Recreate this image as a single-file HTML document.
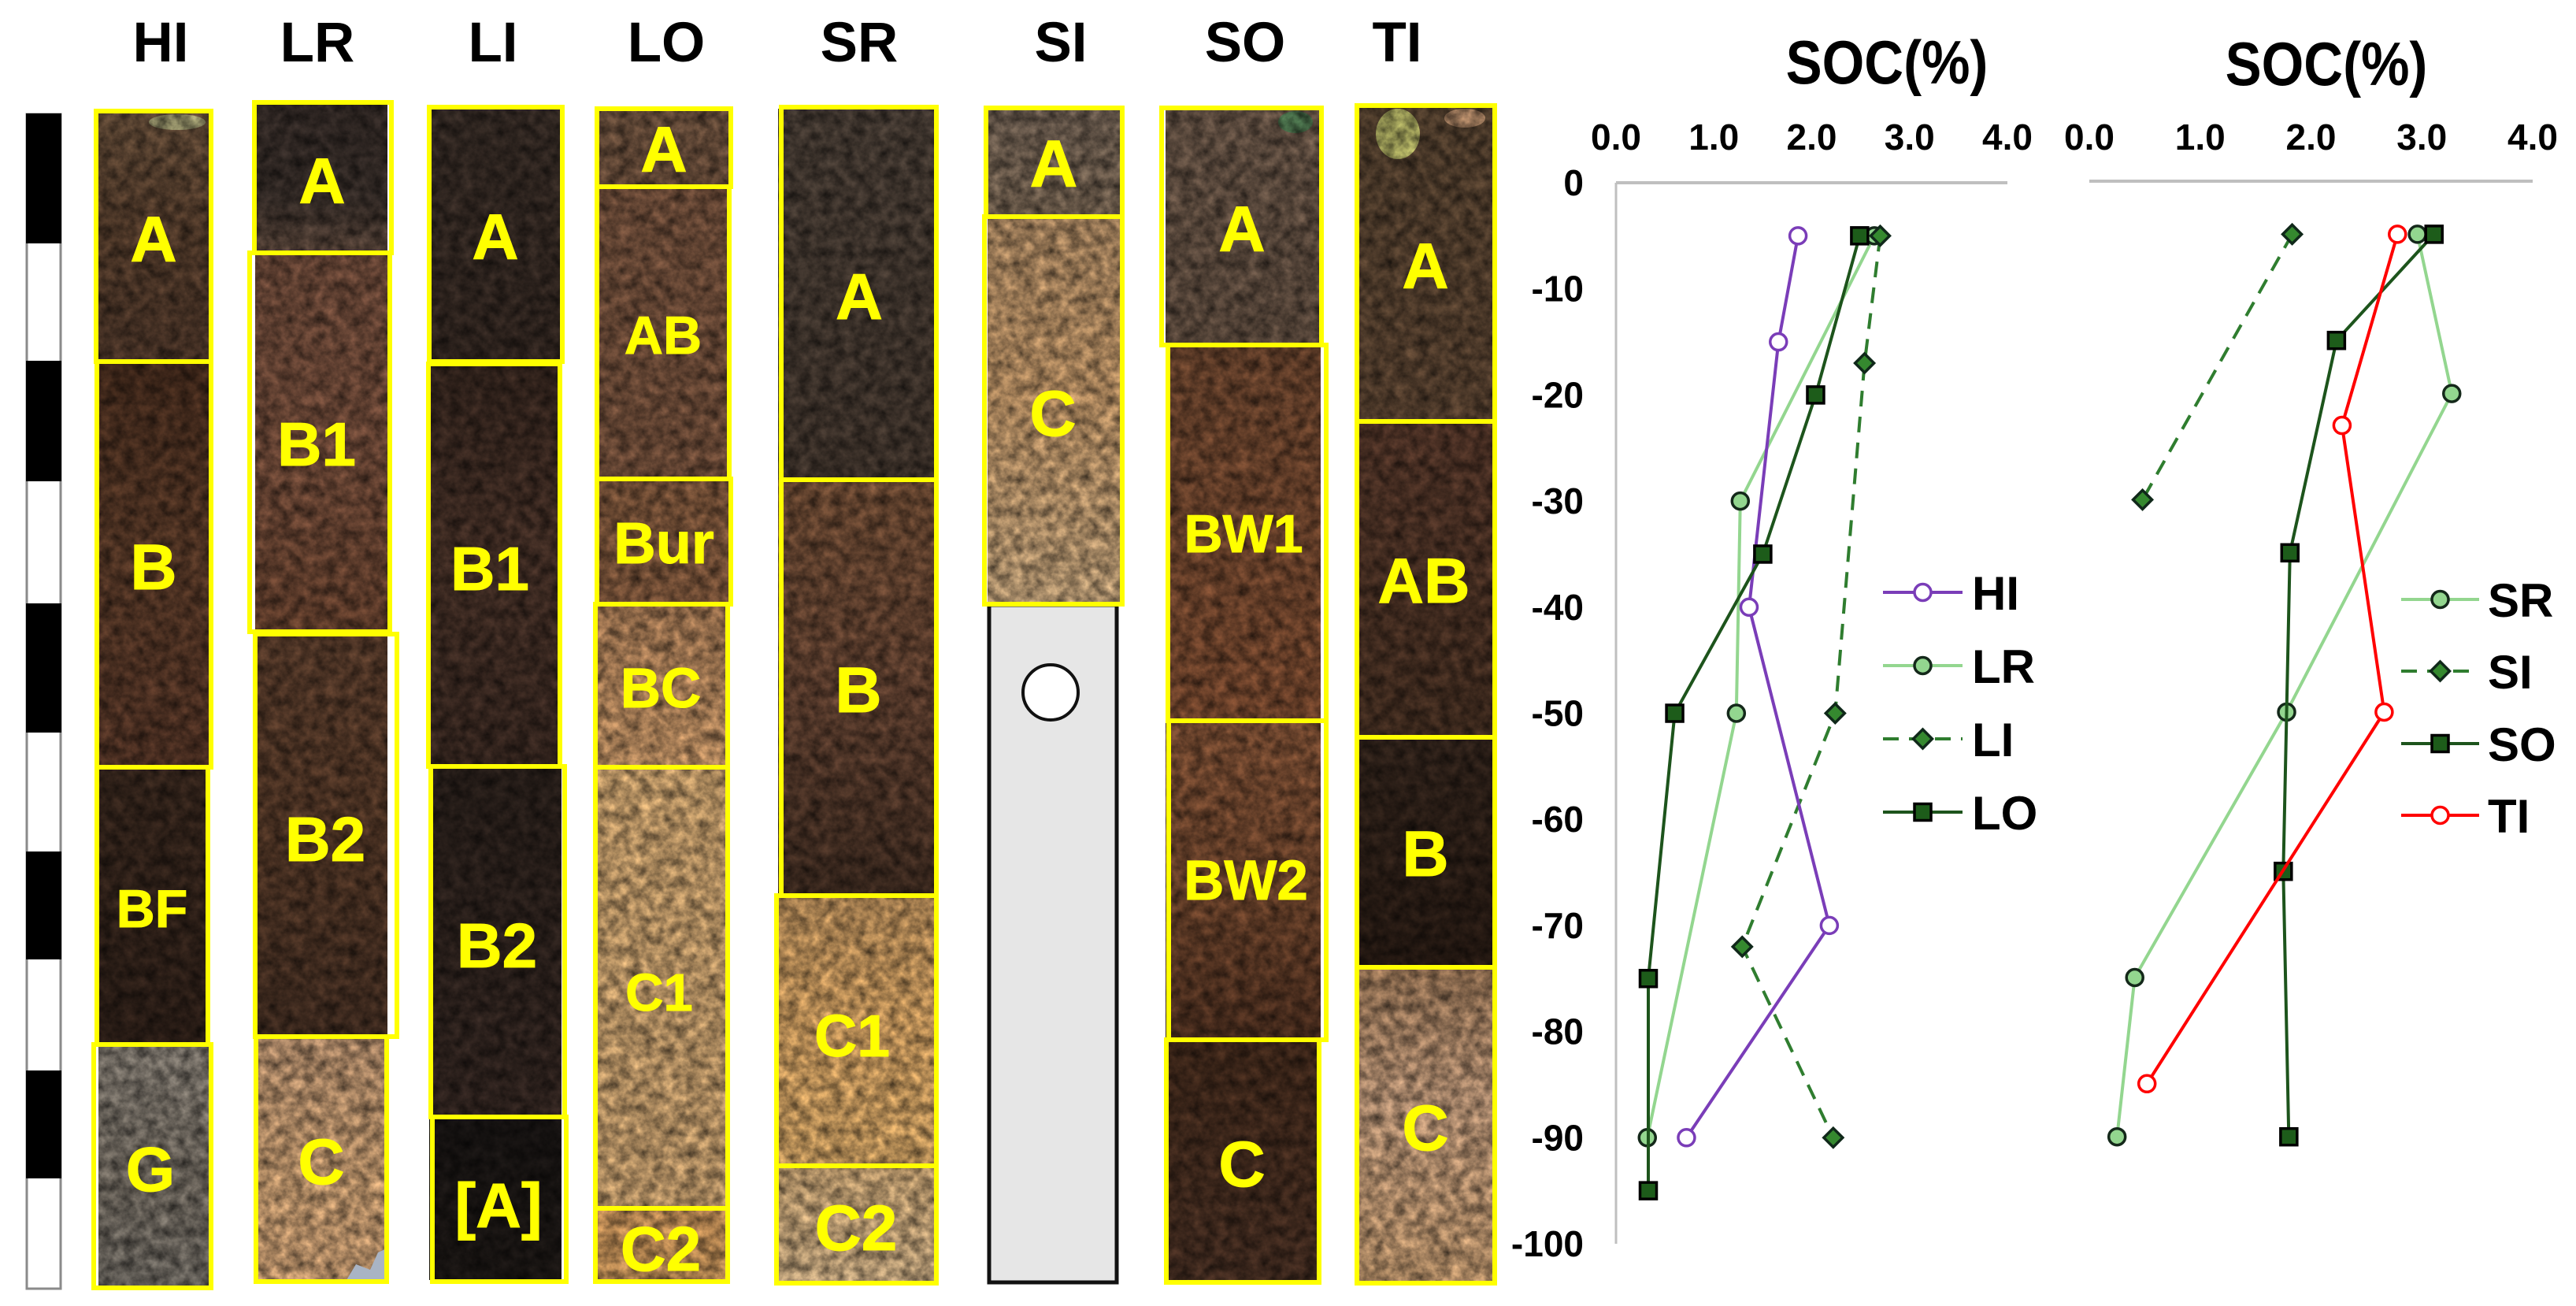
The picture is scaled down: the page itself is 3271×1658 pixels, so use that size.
<!DOCTYPE html>
<html lang="en">
<head>
<meta charset="utf-8">
<title>Soil profiles and SOC depth charts</title>
<style>
html,body{margin:0;padding:0;background:#fff;}
svg{display:block;}
text{font-family:"Liberation Sans",Arial,sans-serif;font-weight:bold;}
.hd{font-size:71px;fill:#000;text-anchor:middle;}
.hz{fill:#ffff00;stroke:#ffff00;stroke-width:1;text-anchor:middle;}
.bx{fill:none;stroke:#ffff00;stroke-width:6;}
</style>
</head>
<body>
<svg id="fig" xmlns="http://www.w3.org/2000/svg" width="3271" height="1658" viewBox="0 0 3271 1658">
<defs>
<filter id="lumps" filterUnits="userSpaceOnUse" x="0" y="0" width="1950" height="1658" color-interpolation-filters="sRGB">
<feTurbulence type="fractalNoise" baseFrequency="0.07" numOctaves="4" seed="7" result="t"/>
<feColorMatrix in="t" type="matrix" values="1 0 0 0 0 1 0 0 0 0 1 0 0 0 0 0 0 0 0 1" result="g"/>
<feComposite in="SourceGraphic" in2="g" operator="arithmetic" k1="1.3" k2="0.33" k3="0" k4="0"/>
</filter>
<linearGradient id="gHI" gradientUnits="userSpaceOnUse" x1="0" y1="0" x2="0" y2="1658"><stop offset=".085" stop-color="#54402f"/><stop offset=".181" stop-color="#463224"/><stop offset=".277" stop-color="#402d22"/><stop offset=".278" stop-color="#3a2418"/><stop offset=".422" stop-color="#4a3021"/><stop offset=".587" stop-color="#452b1f"/><stop offset=".588" stop-color="#2e2018"/><stop offset=".800" stop-color="#261a14"/><stop offset=".801" stop-color="#6e6860"/><stop offset=".905" stop-color="#5e5850"/><stop offset=".987" stop-color="#5c5852"/></linearGradient>
<linearGradient id="gLR" gradientUnits="userSpaceOnUse" x1="0" y1="0" x2="0" y2="1658"><stop offset=".078" stop-color="#2b2320"/><stop offset=".151" stop-color="#2e2622"/><stop offset=".194" stop-color="#4d3c32"/><stop offset=".195" stop-color="#5c3e30"/><stop offset=".338" stop-color="#5f3f30"/><stop offset=".484" stop-color="#553626"/><stop offset=".485" stop-color="#4a3224"/><stop offset=".639" stop-color="#452e20"/><stop offset=".794" stop-color="#38261c"/><stop offset=".795" stop-color="#96765a"/><stop offset=".905" stop-color="#a8845f"/><stop offset=".981" stop-color="#a8835f"/></linearGradient>
<linearGradient id="gLI" gradientUnits="userSpaceOnUse" x1="0" y1="0" x2="0" y2="1658"><stop offset=".081" stop-color="#2d241f"/><stop offset=".277" stop-color="#2a201b"/><stop offset=".278" stop-color="#2c1f19"/><stop offset=".422" stop-color="#3a2820"/><stop offset=".587" stop-color="#2f211b"/><stop offset=".588" stop-color="#221a16"/><stop offset=".855" stop-color="#2a1f1b"/><stop offset=".856" stop-color="#141110"/><stop offset=".981" stop-color="#171311"/></linearGradient>
<linearGradient id="gLO" gradientUnits="userSpaceOnUse" x1="0" y1="0" x2="0" y2="1658"><stop offset=".083" stop-color="#584232"/><stop offset=".142" stop-color="#5a4232"/><stop offset=".143" stop-color="#604332"/><stop offset=".367" stop-color="#5e4130"/><stop offset=".368" stop-color="#664630"/><stop offset=".462" stop-color="#6c4a33"/><stop offset=".463" stop-color="#8a6546"/><stop offset=".587" stop-color="#a47c55"/><stop offset=".588" stop-color="#aa885c"/><stop offset=".925" stop-color="#a2825a"/><stop offset=".926" stop-color="#a87b4b"/><stop offset=".981" stop-color="#a07748"/></linearGradient>
<linearGradient id="gSR" gradientUnits="userSpaceOnUse" x1="0" y1="0" x2="0" y2="1658"><stop offset=".081" stop-color="#3c332c"/><stop offset=".367" stop-color="#362c25"/><stop offset=".368" stop-color="#5e402c"/><stop offset=".531" stop-color="#523729"/><stop offset=".686" stop-color="#34241b"/><stop offset=".687" stop-color="#9a764b"/><stop offset=".784" stop-color="#b18752"/><stop offset=".893" stop-color="#ac8652"/><stop offset=".894" stop-color="#a68860"/><stop offset=".982" stop-color="#a78e6c"/></linearGradient>
<linearGradient id="gSI" gradientUnits="userSpaceOnUse" x1="0" y1="0" x2="0" y2="1658"><stop offset=".082" stop-color="#5c4f44"/><stop offset=".166" stop-color="#625344"/><stop offset=".167" stop-color="#907252"/><stop offset=".302" stop-color="#9e7b55"/><stop offset=".463" stop-color="#9f8564"/></linearGradient>
<linearGradient id="gSO" gradientUnits="userSpaceOnUse" x1="0" y1="0" x2="0" y2="1658"><stop offset=".082" stop-color="#57473b"/><stop offset=".264" stop-color="#4e3f34"/><stop offset=".265" stop-color="#593926"/><stop offset=".552" stop-color="#653d27"/><stop offset=".553" stop-color="#6a432c"/><stop offset=".694" stop-color="#5a3824"/><stop offset=".796" stop-color="#40271a"/><stop offset=".797" stop-color="#382317"/><stop offset=".982" stop-color="#3a261c"/></linearGradient>
<linearGradient id="gTI" gradientUnits="userSpaceOnUse" x1="0" y1="0" x2="0" y2="1658"><stop offset=".081" stop-color="#463627"/><stop offset=".323" stop-color="#4a3728"/><stop offset=".324" stop-color="#462d22"/><stop offset=".565" stop-color="#38261b"/><stop offset=".566" stop-color="#2a1e17"/><stop offset=".741" stop-color="#211610"/><stop offset=".742" stop-color="#806248"/><stop offset=".844" stop-color="#a08066"/><stop offset=".983" stop-color="#a07e5b"/></linearGradient>
</defs>

<rect x="0" y="0" width="3271" height="1658" fill="#ffffff"/>

<!-- depth scale bar -->
<g>
<rect x="34" y="145" width="43" height="1491" fill="#fff" stroke="#8a8a8a" stroke-width="3"/>
<rect x="33" y="144" width="45" height="165" fill="#000"/>
<rect x="33" y="458" width="45" height="153" fill="#000"/>
<rect x="33" y="766" width="45" height="164" fill="#000"/>
<rect x="33" y="1081" width="45" height="137" fill="#000"/>
<rect x="33" y="1359" width="45" height="137" fill="#000"/>
</g>

<!-- column headers -->
<text class="hd" x="204" y="78">HI</text>
<text class="hd" x="403" y="78">LR</text>
<text class="hd" x="626" y="78">LI</text>
<text class="hd" x="846" y="78">LO</text>
<text class="hd" x="1091" y="78">SR</text>
<text class="hd" x="1347" y="78">SI</text>
<text class="hd" x="1581" y="78">SO</text>
<text class="hd" x="1774" y="78">TI</text>

<!-- soil photos (painted texture) -->
<g filter="url(#lumps)">
<rect x="125" y="143" width="141" height="1492" fill="url(#gHI)"/>
<rect x="324" y="133" width="168" height="1492" fill="url(#gLR)"/>
<rect x="545" y="135" width="168" height="1490" fill="url(#gLI)"/>
<rect x="758" y="140" width="168" height="1485" fill="url(#gLO)"/>
<rect x="988" y="138" width="199" height="1489" fill="url(#gSR)"/>
<rect x="1254" y="139" width="170" height="628" fill="url(#gSI)"/>
<rect x="1480" y="139" width="197" height="1487" fill="url(#gSO)"/>
<rect x="1725" y="137" width="172" height="1490" fill="url(#gTI)"/>
<ellipse cx="1775" cy="170" rx="28" ry="32" fill="#8f8f50"/>
<ellipse cx="1860" cy="150" rx="26" ry="12" fill="#8a6a50"/>
<ellipse cx="1645" cy="155" rx="22" ry="14" fill="#3f6040"/>
<ellipse cx="225" cy="155" rx="36" ry="10" fill="#7d7a58"/>
</g>
<path d="M440 1625 L452 1605 L470 1612 L480 1590 L491 1585 L491 1625 Z" fill="#a9b4c4"/>

<!-- SI missing section -->
<rect x="1256" y="768" width="162" height="860" fill="#e6e6e6" stroke="#111" stroke-width="5"/>
<circle cx="1334" cy="879" r="35" fill="#fff" stroke="#111" stroke-width="4"/>

<!-- horizon boxes -->
<g>
<rect class="bx" x="122" y="141" width="146" height="318"/>
<rect class="bx" x="123" y="459" width="145" height="515"/>
<rect class="bx" x="123" y="974" width="141" height="352"/>
<rect class="bx" x="119" y="1326" width="149" height="309"/>
<rect class="bx" x="323" y="130" width="174" height="191"/>
<rect class="bx" x="317" y="321" width="178" height="481"/>
<rect class="bx" x="324" y="805" width="180" height="511"/>
<rect class="bx" x="325" y="1316" width="166" height="311"/>
<rect class="bx" x="545" y="136" width="169" height="323"/>
<rect class="bx" x="544" y="462" width="167" height="511"/>
<rect class="bx" x="547" y="973" width="170" height="445"/>
<rect class="bx" x="549" y="1418" width="170" height="209"/>
<rect class="bx" x="758" y="138" width="170" height="99"/>
<rect class="bx" x="758" y="237" width="168" height="371"/>
<rect class="bx" x="758" y="608" width="170" height="159"/>
<rect class="bx" x="756" y="767" width="168" height="207"/>
<rect class="bx" x="756" y="974" width="168" height="560"/>
<rect class="bx" x="756" y="1534" width="168" height="93"/>
<rect class="bx" x="992" y="136" width="197" height="473"/>
<rect class="bx" x="992" y="609" width="197" height="528"/>
<rect class="bx" x="986" y="1137" width="203" height="343"/>
<rect class="bx" x="986" y="1480" width="203" height="149"/>
<rect class="bx" x="1252" y="137" width="173" height="138"/>
<rect class="bx" x="1250" y="275" width="175" height="492"/>
<rect class="bx" x="1475" y="137" width="203" height="301"/>
<rect class="bx" x="1483" y="438" width="201" height="477"/>
<rect class="bx" x="1484" y="915" width="200" height="405"/>
<rect class="bx" x="1481" y="1320" width="194" height="308"/>
<rect class="bx" x="1723" y="134" width="175" height="401"/>
<rect class="bx" x="1723" y="535" width="175" height="401"/>
<rect class="bx" x="1723" y="936" width="175" height="292"/>
<rect class="bx" x="1723" y="1228" width="175" height="401"/>
</g>

<!-- horizon labels -->
<g>
<text class="hz" x="195" y="332" font-size="82">A</text>
<text class="hz" x="195" y="748" font-size="82">B</text>
<text class="hz" x="193" y="1177" font-size="68">BF</text>
<text class="hz" x="191" y="1512" font-size="80">G</text>
<text class="hz" x="409" y="258" font-size="82">A</text>
<text class="hz" x="402" y="591" font-size="78">B1</text>
<text class="hz" x="413" y="1093" font-size="80">B2</text>
<text class="hz" x="408" y="1503" font-size="82">C</text>
<text class="hz" x="629" y="329" font-size="82">A</text>
<text class="hz" x="622" y="749" font-size="78">B1</text>
<text class="hz" x="631" y="1228" font-size="80">B2</text>
<text class="hz" x="633" y="1558" font-size="80">[A]</text>
<text class="hz" x="843" y="218" font-size="82">A</text>
<text class="hz" x="842" y="449" font-size="68">AB</text>
<text class="hz" x="843" y="715" font-size="74">Bur</text>
<text class="hz" x="839" y="898" font-size="71">BC</text>
<text class="hz" x="837" y="1283" font-size="67">C1</text>
<text class="hz" x="839" y="1613" font-size="80">C2</text>
<text class="hz" x="1091" y="405" font-size="83">A</text>
<text class="hz" x="1090" y="904" font-size="82">B</text>
<text class="hz" x="1082" y="1341" font-size="75">C1</text>
<text class="hz" x="1087" y="1587" font-size="82">C2</text>
<text class="hz" x="1338" y="237" font-size="84">A</text>
<text class="hz" x="1337" y="553" font-size="82">C</text>
<text class="hz" x="1577" y="319" font-size="82">A</text>
<text class="hz" x="1579" y="701" font-size="68">BW1</text>
<text class="hz" x="1582" y="1142" font-size="71">BW2</text>
<text class="hz" x="1577" y="1506" font-size="82">C</text>
<text class="hz" x="1810" y="366" font-size="82">A</text>
<text class="hz" x="1808" y="765" font-size="81">AB</text>
<text class="hz" x="1810" y="1112" font-size="82">B</text>
<text class="hz" x="1810" y="1460" font-size="82">C</text>
</g>

<g id="charts"></g>
</svg>

<script>
const socTicks = [0, 1, 2, 3, 4];
const depthTicks = [0, -10, -20, -30, -40, -50, -60, -70, -80, -90, -100];

const hiDepth = [-5, -15, -40, -70, -90];
const hiSoc = [1.86, 1.66, 1.36, 2.18, 0.72];
const lrDepth = [-5, -30, -50, -90];
const lrSoc = [2.64, 1.27, 1.23, 0.32];
const liDepth = [-5, -17, -50, -72, -90];
const liSoc = [2.70, 2.54, 2.24, 1.29, 2.22];
const loDepth = [-5, -20, -35, -50, -75, -95];
const loSoc = [2.49, 2.04, 1.50, 0.60, 0.33, 0.33];

const srDepth = [-5, -20, -50, -75, -90];
const srSoc = [2.96, 3.27, 1.78, 0.41, 0.25];
const siDepth = [-5, -30];
const siSoc = [1.83, 0.48];
const soDepth = [-5, -15, -35, -65, -90];
const soSoc = [3.11, 2.23, 1.81, 1.75, 1.80];
const tiDepth = [-5, -23, -50, -85];
const tiSoc = [2.78, 2.28, 2.66, 0.52];

const NS = 'http://www.w3.org/2000/svg';
const root = document.getElementById('charts');

function make(tag, attrs, parent) {
  const el = document.createElementNS(NS, tag);
  for (const k in attrs) el.setAttribute(k, attrs[k]);
  parent.appendChild(el);
  return el;
}

const styles = {
  open: function (color) { return { line: color, dash: '', kind: 'circle', fill: '#ffffff', stroke: color }; },
  light: { line: '#93d68f', dash: '', kind: 'circle', fill: '#93d68f', stroke: '#14281a' },
  dashed: { line: '#2f7d2f', dash: '20 13', kind: 'diamond', fill: '#35892f', stroke: '#10281a' },
  dark: { line: '#1d541c', dash: '', kind: 'square', fill: '#1d5c1a', stroke: '#000000' }
};

function marker(style, cx, cy, scale, parent, name) {
  let el;
  if (style.kind === 'circle') {
    el = make('circle', { cx: cx, cy: cy, r: 10.5 * scale }, parent);
  } else if (style.kind === 'square') {
    el = make('rect', { x: cx - 10.5, y: cy - 10.5, width: 21, height: 21 }, parent);
  } else {
    const r = 12;
    el = make('polygon', { points: (cx - r) + ',' + cy + ' ' + cx + ',' + (cy - r) + ' ' + (cx + r) + ',' + cy + ' ' + cx + ',' + (cy + r) }, parent);
  }
  el.setAttribute('fill', style.fill);
  el.setAttribute('stroke', style.stroke);
  el.setAttribute('stroke-width', 3.5);
  
  
}

function drawSeries(name, socs, depths, style, xAxis, yAxis, parent) {
  const g = make('g', {}, parent);
  
  
  const pts = socs.map(function (v, i) { return xAxis(v).toFixed(1) + ',' + yAxis(depths[i]).toFixed(1); }).join(' ');
  const line = make('polyline', { points: pts, fill: 'none', stroke: style.line, 'stroke-width': 4 }, g);
  if (style.dash) line.setAttribute('stroke-dasharray', style.dash);
  
  
  socs.forEach(function (v, i) {
    marker(style, xAxis(v), yAxis(depths[i]), 1, g, 'point-' + name + '-' + i);
  });
}

function drawLegendEntry(name, style, x1, x2, y, textX, parent) {
  const g = make('g', {}, parent);
  
  
  const line = make('line', { x1: x1, x2: x2, y1: y, y2: y, stroke: style.line, 'stroke-width': 4 }, g);
  if (style.dash) line.setAttribute('stroke-dasharray', style.dash);
  
  
  marker(style, (x1 + x2) / 2, y, 1, g, 'legend-marker-' + name);
  const t = make('text', { x: textX, y: y + 22, 'font-size': 60, fill: '#000' }, g);
  t.textContent = name;
  
  
}

function linear(d0, d1, r0, r1) {
  return function (v) { return r0 + (v - d0) * (r1 - r0) / (d1 - d0); };
}

// left chart
const leftX = linear(0, 4, 2052, 2549);
const leftY = linear(0, -100, 232, 1579);
// right chart
const rightX = linear(0, 4, 2653, 3216);
const rightY = linear(0, -100, 230, 1578);

function drawAxes(name, xAxis, yAxis, labelBaseline, titleX, titleY, withY, parent) {
  const g = make('g', {}, parent);
  
  
  const xa = make('line', { x1: xAxis(0), x2: xAxis(4), y1: yAxis(0), y2: yAxis(0), stroke: '#bfbfbf', 'stroke-width': 4 }, g);
  
  
  const title = make('text', { transform: 'translate(' + titleX + ',' + titleY + ') scale(1,1.13)', 'font-size': 69, 'text-anchor': 'middle', fill: '#000' }, g);
  title.textContent = 'SOC(%)';
  
  
  socTicks.forEach(function (v) {
    const t = make('text', { x: xAxis(v), y: labelBaseline, 'font-size': 46, 'text-anchor': 'middle', fill: '#000' }, g);
    t.textContent = v.toFixed(1);
    
    
  });
  if (withY) {
    const ya = make('line', { x1: xAxis(0), x2: xAxis(0), y1: yAxis(0), y2: yAxis(-100), stroke: '#bfbfbf', 'stroke-width': 3 }, g);
    
    
    depthTicks.forEach(function (d) {
      const t = make('text', { x: 2011, y: yAxis(d) + 16, 'font-size': 46, 'text-anchor': 'end', fill: '#000' }, g);
      t.textContent = String(d);
      
      
    });
  }
}

drawAxes('left', leftX, leftY, 190, 2396, 106, true, root);
drawAxes('right', rightX, rightY, 190, 2954, 108, false, root);

const hiStyle = styles.open('#7a3db8');
const tiStyle = styles.open('#ff0000');

drawSeries('LR', lrSoc, lrDepth, styles.light, leftX, leftY, root);
drawSeries('LI', liSoc, liDepth, styles.dashed, leftX, leftY, root);
drawSeries('HI', hiSoc, hiDepth, hiStyle, leftX, leftY, root);
drawSeries('LO', loSoc, loDepth, styles.dark, leftX, leftY, root);

drawSeries('SR', srSoc, srDepth, styles.light, rightX, rightY, root);
drawSeries('SI', siSoc, siDepth, styles.dashed, rightX, rightY, root);
drawSeries('SO', soSoc, soDepth, styles.dark, rightX, rightY, root);
drawSeries('TI', tiSoc, tiDepth, tiStyle, rightX, rightY, root);

drawLegendEntry('HI', hiStyle, 2391, 2492, 752, 2504, root);
drawLegendEntry('LR', styles.light, 2391, 2492, 845, 2504, root);
drawLegendEntry('LI', styles.dashed, 2391, 2492, 938, 2504, root);
drawLegendEntry('LO', styles.dark, 2391, 2492, 1031, 2504, root);

drawLegendEntry('SR', styles.light, 3049, 3148, 761, 3159, root);
drawLegendEntry('SI', styles.dashed, 3049, 3148, 852, 3159, root);
drawLegendEntry('SO', styles.dark, 3049, 3148, 944, 3159, root);
drawLegendEntry('TI', tiStyle, 3049, 3148, 1035, 3159, root);
</script>
</body>
</html>
